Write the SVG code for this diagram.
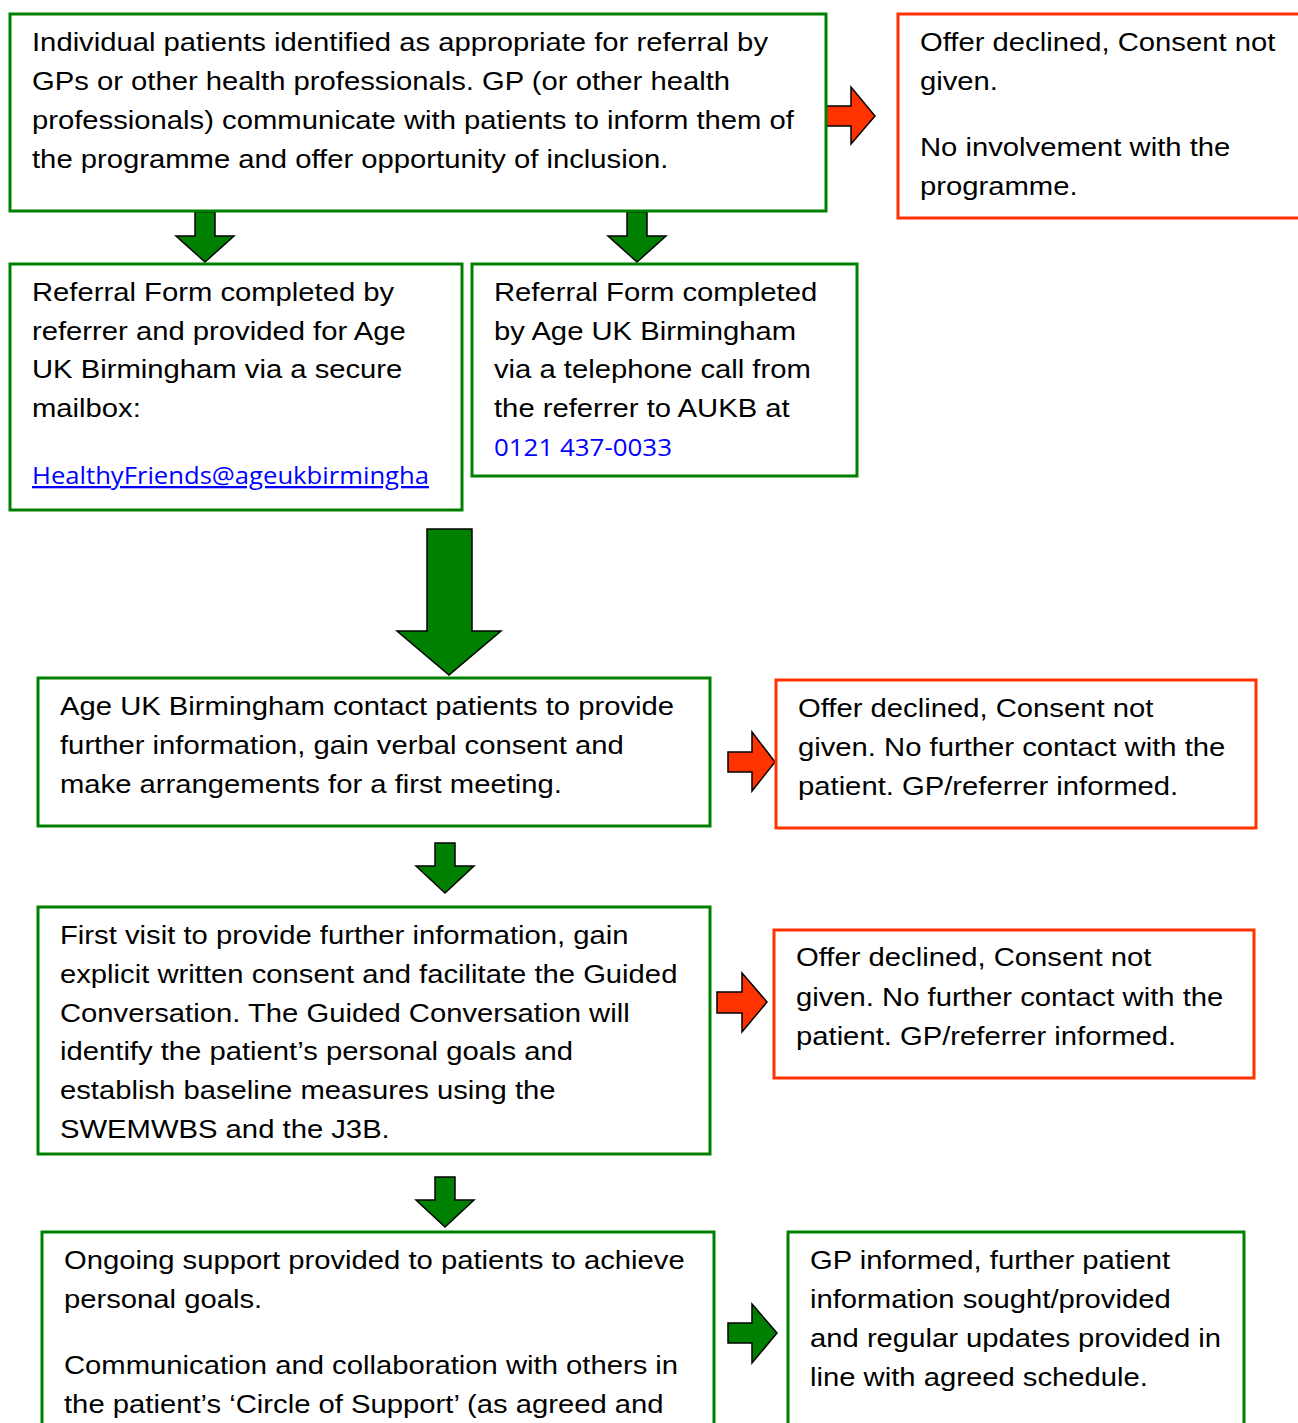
<svg xmlns="http://www.w3.org/2000/svg" width="1298" height="1423" viewBox="0 0 1298 1423">
<style>
.g{fill:#fff;stroke:#008000;stroke-width:3}
.r{fill:#fff;stroke:#FF3300;stroke-width:3}
.t{font-family:"Liberation Sans",Arial,sans-serif;font-size:25px;fill:#000}
.c{font-family:"Open Sans","Noto Sans",sans-serif;font-size:23px;fill:#0000FF}
.ag{fill:#008000;stroke:#000;stroke-width:1.5;stroke-linejoin:miter}
.ar{fill:#FF3300;stroke:#000;stroke-width:1.5;stroke-linejoin:miter}
</style>
<rect width="1298" height="1423" fill="#fff"/>
<g id="connectors">
<polygon class="ar" points="826,106 851,106 851,87 875,116 851,144 851,126 826,126"/>
<polygon class="ag" points="195,212 215,212 215,236 234,236 205,262 176,236 195,236"/>
<polygon class="ag" points="627,212 647,212 647,236 666,236 637,262 608,236 627,236"/>
<polygon class="ag" points="427,529 472,529 472,631 501,631 449,675 397,631 427,631"/>
<polygon class="ar" points="728,752 752,752 752,732 775,762 752,791 752,772 728,772"/>
<polygon class="ag" points="435,843 455,843 455,866 474,866 445,893 416,866 435,866"/>
<polygon class="ar" points="717,992 742,992 742,973 767,1002 742,1032 742,1013 717,1013"/>
<polygon class="ag" points="435,1177 455,1177 455,1200 474,1200 445,1227 416,1200 435,1200"/>
<polygon class="ag" points="728,1323 752,1323 752,1304 777,1333 752,1363 752,1343 728,1343"/>
</g>
<g id="n1">
<rect class="g" x="10" y="14" width="816" height="197"/>
<g transform="translate(32,0) scale(1.17,1)"><text class="t">
<tspan x="0" y="51">Individual patients identified as appropriate for referral by</tspan>
<tspan x="0" y="90">GPs or other health professionals. GP (or other health</tspan>
<tspan x="0" y="129">professionals) communicate with patients to inform them of</tspan>
<tspan x="0" y="168">the programme and offer opportunity of inclusion.</tspan>
</text></g>
</g>
<g id="n1r">
<rect class="r" x="898" y="14" width="420" height="204"/>
<g transform="translate(920,0) scale(1.17,1)"><text class="t">
<tspan x="0" y="51">Offer declined, Consent not</tspan>
<tspan x="0" y="90">given.</tspan>
<tspan x="0" y="156">No involvement with the</tspan>
<tspan x="0" y="195">programme.</tspan>
</text></g>
</g>
<g id="n2a">
<rect class="g" x="10" y="264" width="452" height="246"/>
<g transform="translate(32,0) scale(1.17,1)"><text class="t">
<tspan x="0" y="301">Referral Form completed by</tspan>
<tspan x="0" y="340">referrer and provided for Age</tspan>
<tspan x="0" y="378">UK Birmingham via a secure</tspan>
<tspan x="0" y="417">mailbox:</tspan>
</text></g>
<text class="c" x="32" y="484" textLength="397" lengthAdjust="spacingAndGlyphs" text-decoration="underline">HealthyFriends@ageukbirmingha</text>
</g>
<g id="n2b">
<rect class="g" x="472" y="264" width="385" height="212"/>
<g transform="translate(494,0) scale(1.17,1)"><text class="t">
<tspan x="0" y="301">Referral Form completed</tspan>
<tspan x="0" y="340">by Age UK Birmingham</tspan>
<tspan x="0" y="378">via a telephone call from</tspan>
<tspan x="0" y="417">the referrer to AUKB at</tspan>
</text></g>
<text class="c" x="494" y="456" textLength="178" lengthAdjust="spacingAndGlyphs">0121 437-0033</text>
</g>
<g id="n3">
<rect class="g" x="38" y="678" width="672" height="148"/>
<g transform="translate(60,0) scale(1.17,1)"><text class="t">
<tspan x="0" y="715">Age UK Birmingham contact patients to provide</tspan>
<tspan x="0" y="754">further information, gain verbal consent and</tspan>
<tspan x="0" y="793">make arrangements for a first meeting.</tspan>
</text></g>
</g>
<g id="n3r">
<rect class="r" x="776" y="680" width="480" height="148"/>
<g transform="translate(798,0) scale(1.17,1)"><text class="t">
<tspan x="0" y="717">Offer declined, Consent not</tspan>
<tspan x="0" y="756">given. No further contact with the</tspan>
<tspan x="0" y="795">patient. GP/referrer informed.</tspan>
</text></g>
</g>
<g id="n4">
<rect class="g" x="38" y="907" width="672" height="247"/>
<g transform="translate(60,0) scale(1.17,1)"><text class="t">
<tspan x="0" y="944">First visit to provide further information, gain</tspan>
<tspan x="0" y="983">explicit written consent and facilitate the Guided</tspan>
<tspan x="0" y="1022">Conversation. The Guided Conversation will</tspan>
<tspan x="0" y="1060">identify the patient’s personal goals and</tspan>
<tspan x="0" y="1099">establish baseline measures using the</tspan>
<tspan x="0" y="1138">SWEMWBS and the J3B.</tspan>
</text></g>
</g>
<g id="n4r">
<rect class="r" x="774" y="930" width="480" height="148"/>
<g transform="translate(796,0) scale(1.17,1)"><text class="t">
<tspan x="0" y="966">Offer declined, Consent not</tspan>
<tspan x="0" y="1006">given. No further contact with the</tspan>
<tspan x="0" y="1045">patient. GP/referrer informed.</tspan>
</text></g>
</g>
<g id="n5">
<rect class="g" x="42" y="1232" width="672" height="220"/>
<g transform="translate(64,0) scale(1.17,1)"><text class="t">
<tspan x="0" y="1269">Ongoing support provided to patients to achieve</tspan>
<tspan x="0" y="1308">personal goals.</tspan>
<tspan x="0" y="1374">Communication and collaboration with others in</tspan>
<tspan x="0" y="1413">the patient’s ‘Circle of Support’ (as agreed and</tspan>
</text></g>
</g>
<g id="n5r">
<rect class="g" x="788" y="1232" width="456" height="220"/>
<g transform="translate(810,0) scale(1.17,1)"><text class="t">
<tspan x="0" y="1269">GP informed, further patient</tspan>
<tspan x="0" y="1308">information sought/provided</tspan>
<tspan x="0" y="1347">and regular updates provided in</tspan>
<tspan x="0" y="1386">line with agreed schedule.</tspan>
</text></g>
</g>
</svg>
